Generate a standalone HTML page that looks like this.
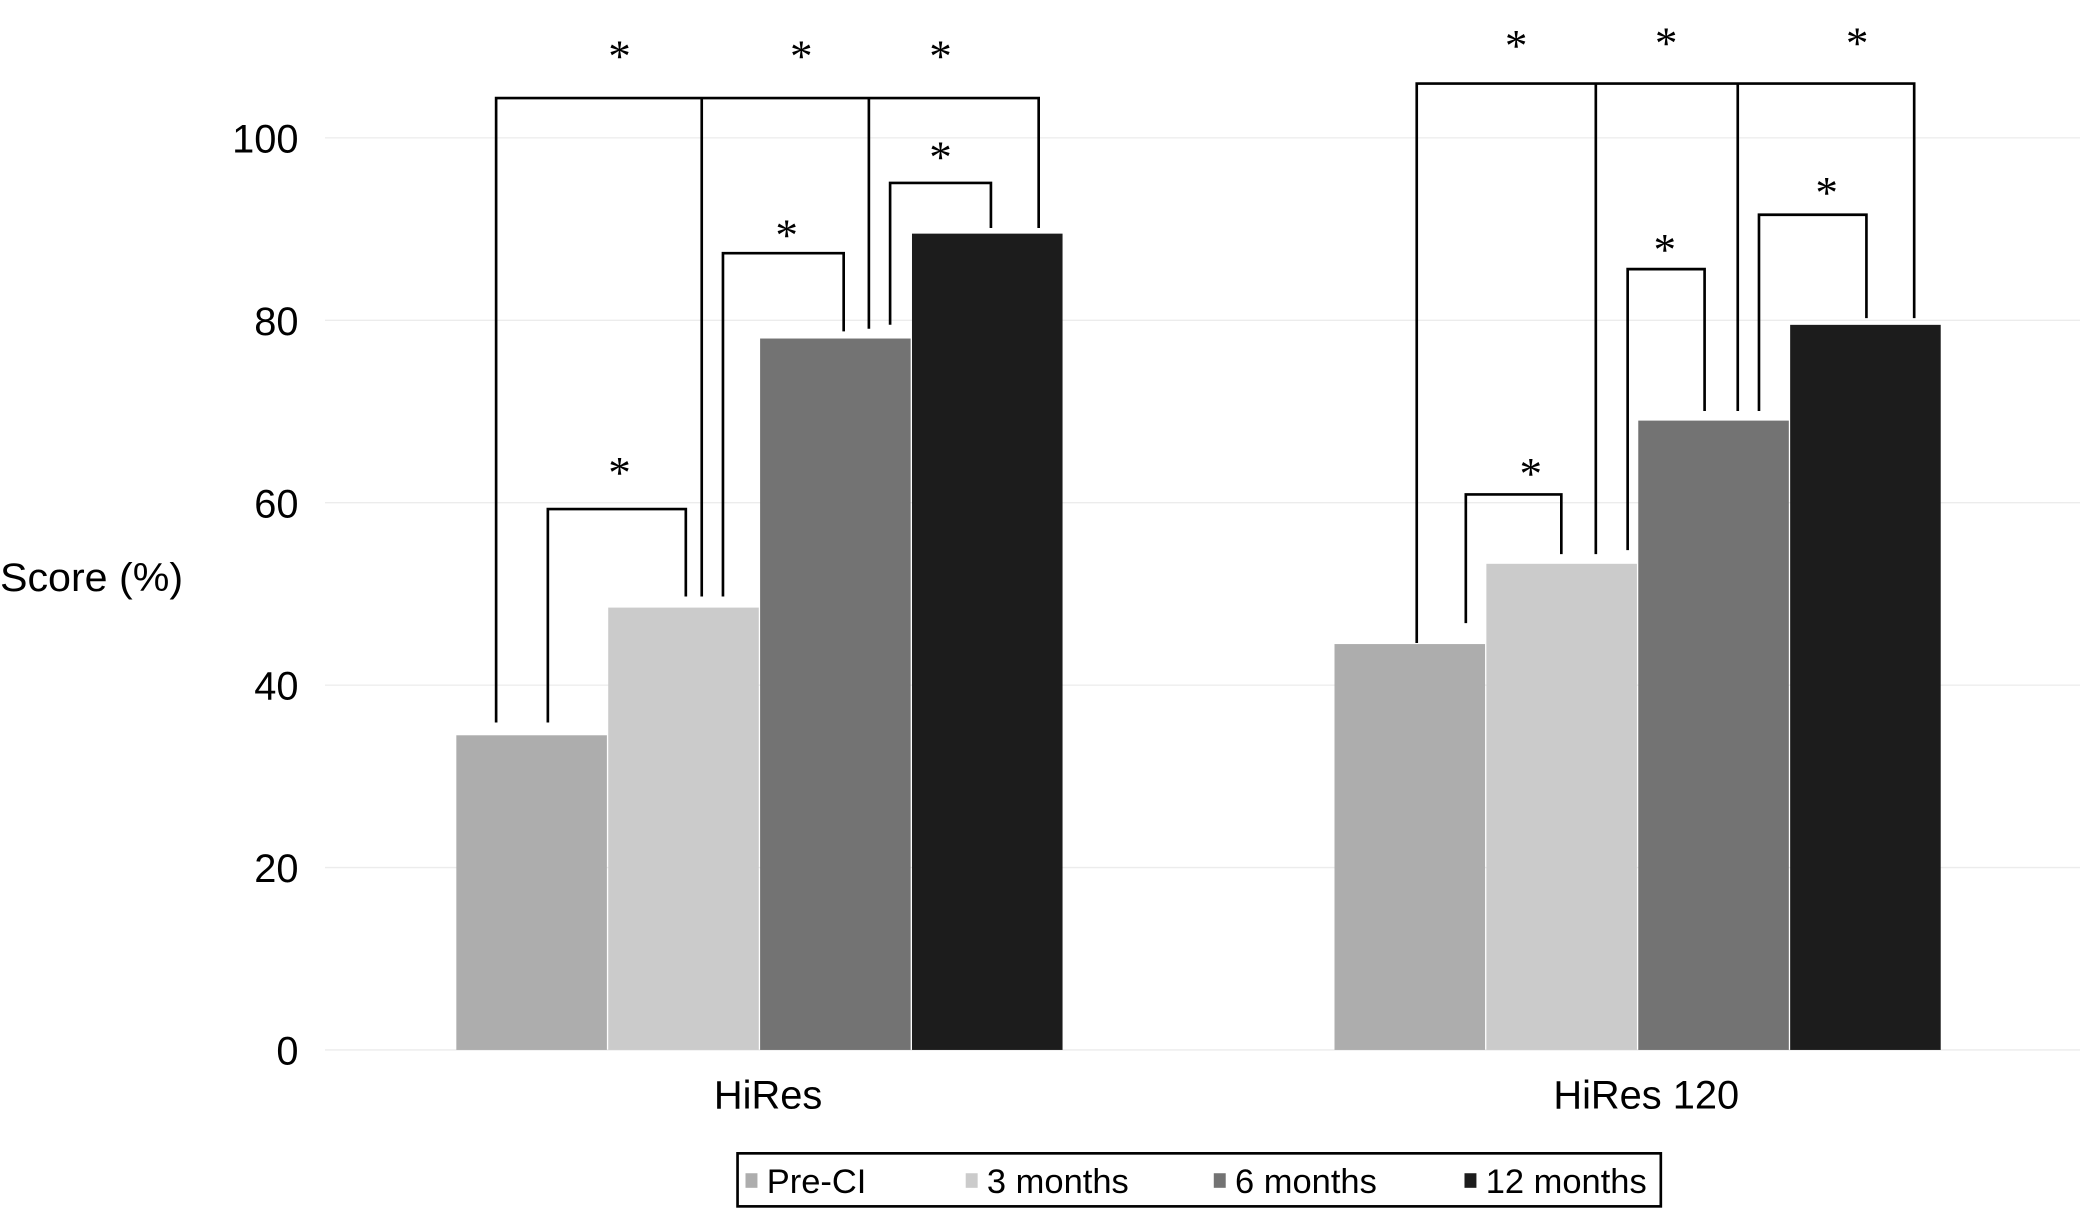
<!DOCTYPE html>
<html><head><meta charset="utf-8"><style>
html,body{margin:0;padding:0;background:#fff;}
svg{display:block;font-family:"Liberation Sans",Arial,sans-serif;}
</style></head><body>
<svg id="chart" width="2080" height="1213" viewBox="0 0 1568 915" preserveAspectRatio="none" xmlns="http://www.w3.org/2000/svg">
<g id="grid"></g>
<g id="bars"></g>
<g id="brackets" stroke="#000" stroke-width="2" fill="none"></g>
<g id="stars"></g>
<g id="axis"></g>
<text x="0" y="446" font-size="30" textLength="138" lengthAdjust="spacingAndGlyphs">Score (%)</text>
<g>
<rect x="556" y="870" width="696" height="40" fill="#fff" stroke="#000" stroke-width="2"/>
<g id="legend"></g>
</g>
</svg>
<script>
const categories=["HiRes","HiRes 120"];
const seriesNames=["Pre-CI","3 months","6 months","12 months"];
const preCI=[34.5,44.5];
const m3=[48.5,53.3];
const m6=[78,69];
const m12=[89.5,79.5];
const yTicks=[0,20,40,60,80,100];
const colors=["#adadad","#cbcbcb","#737373","#1c1c1c"];
const series=[preCI,m3,m6,m12];
const NS="http://www.w3.org/2000/svg";
function y(v){return 792-v*6.88;}
const groupStart=[344,1006], barW=114.5;
function bx(g,s){return groupStart[g]+s*barW;}
function el(t,a,p){const e=document.createElementNS(NS,t);for(const k in a)e.setAttribute(k,a[k]);p.appendChild(e);return e;}
const grid=document.getElementById('grid'),axis=document.getElementById('axis');
yTicks.forEach(t=>{
 const l=el('line',{x1:245,x2:1568,y1:y(t),y2:y(t),stroke:'#ececec','stroke-width':1},grid);
 
 
 const tx=el('text',{x:225,y:y(t)+11,'font-size':30,'text-anchor':'end'},axis);
 tx.textContent=t;
 
 
});
const bars=document.getElementById('bars');
categories.forEach((c,g)=>{
 series.forEach((s,i)=>{
  const r=el('rect',{x:bx(g,i),y:y(s[g]),width:barW-1,height:y(0)-y(s[g]),fill:colors[i]},bars);
  
  
 });
 const t=el('text',{x:groupStart[g]+2*barW+6,y:836,'font-size':30,'text-anchor':'middle'},axis);
 t.textContent=c;
 
 
});
const br=document.getElementById('brackets'),st=document.getElementById('stars');
function path(d){const p=el('path',{d:d},br);}
function star(x,yy){const t=el('text',{x:x,y:yy+16,'font-size':34,'text-anchor':'middle','font-family':'Liberation Serif, serif'},st);t.textContent='*';}
// HiRes
path('M374 545V74H783V172M529 450V74M655 248V74');
path('M413 545V384H517V450');path('M545 450V191H636V250');path('M671 245V138H747V172');
star(467,38);star(604,38);star(709,38);star(467,352);star(593,173);star(709,114);
// HiRes 120
path('M1068 485V63H1443V240M1203 418V63M1310 310V63');
path('M1105 470V373H1177V418');path('M1227 415V203H1285V310');path('M1326 310V162H1407V240');
star(1143,30);star(1256,28);star(1400,28);star(1154,353);star(1255,184);star(1377,141);
const lg=document.getElementById('legend');
const lx=[562,728,915,1104];
seriesNames.forEach((n,i)=>{
 const r=el('rect',{x:lx[i],y:885,width:9,height:11,fill:colors[i]},lg);
 
 
 const t=el('text',{x:lx[i]+16,y:900,'font-size':26},lg);
 t.textContent=n;
 
 
});
</script>
</body></html>
